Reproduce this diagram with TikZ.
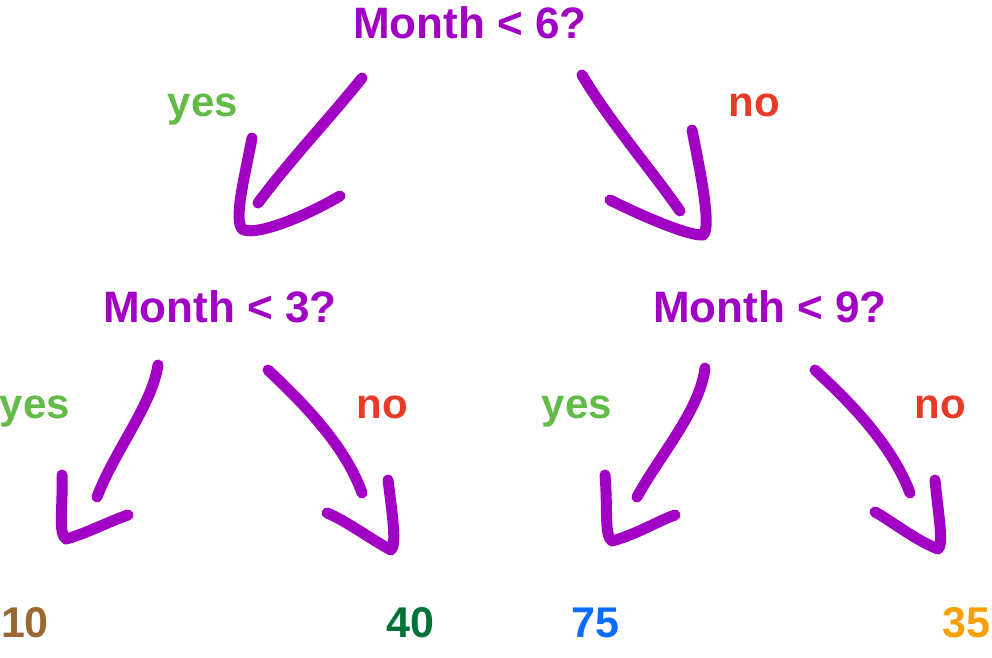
\documentclass[tikz,border=0pt]{standalone}
\usepackage{fontspec}
\setmainfont{Liberation Sans}
\usepackage{tikz}
\usetikzlibrary{positioning,calc}
\definecolor{treepurple}{RGB}{161,0,196}
\definecolor{yesgreen}{RGB}{98,187,70}
\definecolor{nored}{RGB}{233,58,39}
\definecolor{leafbrown}{RGB}{154,103,50}
\definecolor{leafgreen}{RGB}{0,114,56}
\definecolor{leafblue}{RGB}{10,108,255}
\definecolor{leaforange}{RGB}{247,160,0}

\begin{document}
\begin{tikzpicture}[x=1pt,y=-1pt,
  every node/.style={inner sep=0pt,anchor=base,font=\bfseries\fontsize{44}{48}\selectfont},
  cond/.style={text=treepurple},
  answer/.style={font=\bfseries\fontsize{42}{46}\selectfont},
  leaf/.style={font=\bfseries\fontsize{43}{46}\selectfont},
  stroke/.style={treepurple,line width=11pt,line cap=round,line join=round}]
  \useasboundingbox (0,0) rectangle (992,657);
  % questions
  \node[cond] (root) at (470,38) {Month < 6?};
  \node[cond] (left) at (220,322) {Month < 3?};
  \node[cond] (right) at (770,322) {Month < 9?};
  % branch labels
  \node[answer,text=yesgreen] (yes0) at (203,116) {yes};
  \node[answer,text=nored] (no0) at (754,116) {no};
  \node[answer,text=yesgreen] (yes1) at (35,418) {yes};
  \node[answer,text=nored] (no1) at (382,418) {no};
  \node[answer,text=yesgreen] (yes2) at (577,418) {yes};
  \node[answer,text=nored] (no2) at (940,418) {no};
  % leaves
  \node[leaf,text=leafbrown] (leafA) at (25,637) {10};
  \node[leaf,text=leafgreen] (leafB) at (410,637) {40};
  \node[leaf,text=leafblue] (leafC) at (595,637) {75};
  \node[leaf,text=leaforange] (leafD) at (966,637) {35};
  % arrow ends
  \coordinate (rootL) at (362,78);
  \coordinate (rootR) at (582,75);
  \coordinate (leftL) at (158,365);
  \coordinate (leftR) at (268,370);
  \coordinate (rightL) at (705,368);
  \coordinate (rightR) at (815,370);
  \coordinate (tipL) at (242,229);
  \coordinate (tipR) at (703,235);
  \coordinate (tipA) at (66,539);
  \coordinate (tipB) at (391,550);
  \coordinate (tipC) at (612,541);
  \coordinate (tipD) at (938,549);
  % shafts
  \draw[stroke] (rootL) .. controls (330,118) and (290,160) .. (258,203);
  \draw[stroke] (rootR) .. controls (610,122) and (650,168) .. (680,211);
  \draw[stroke] (leftL) .. controls (152,405) and (115,450) .. (97,497);
  \draw[stroke] (leftR) .. controls (302,402) and (345,445) .. (362,493);
  \draw[stroke] (rightL) .. controls (700,410) and (660,455) .. (637,497);
  \draw[stroke] (rightR) .. controls (850,402) and (892,445) .. (910,493);
  % heads
  \draw[stroke] (252,138) .. controls (244,180) and (234,218) .. (tipL) .. controls (252,236) and (295,222) .. (340,196);
  \draw[stroke] (692,130) .. controls (700,170) and (712,228) .. (tipR) .. controls (688,236) and (640,215) .. (610,200);
  \draw[stroke] (62,475) .. controls (63,510) and (58,533) .. (tipA) .. controls (85,534) and (110,521) .. (128,515);
  \draw[stroke] (388,480) .. controls (392,512) and (397,545) .. (tipB) .. controls (372,540) and (345,520) .. (327,513);
  \draw[stroke] (605,475) .. controls (608,510) and (604,535) .. (tipC) .. controls (635,535) and (660,520) .. (675,515);
  \draw[stroke] (935,480) .. controls (938,512) and (944,545) .. (tipD) .. controls (915,540) and (890,520) .. (875,512);
\end{tikzpicture}
\end{document}
